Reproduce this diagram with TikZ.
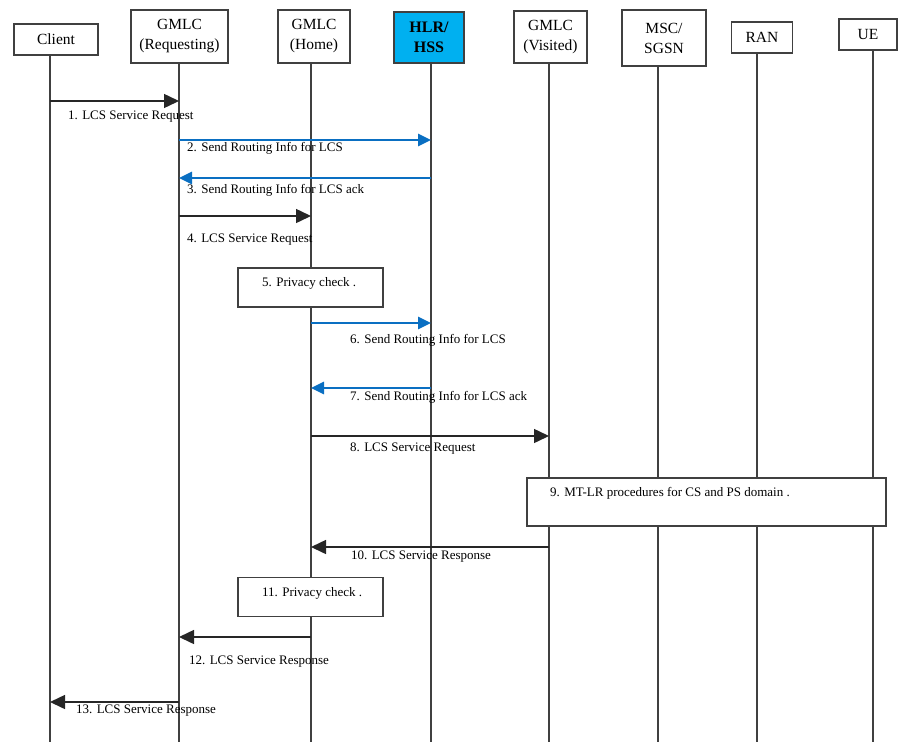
\documentclass[tikz,border=0pt]{standalone}
\usepackage{fontspec}
\setmainfont{Liberation Serif}
\usetikzlibrary{arrows.meta}
\definecolor{hss}{HTML}{00B0F0}
\definecolor{msgblue}{HTML}{0A6FC2}
\definecolor{ln}{HTML}{404040}
\begin{document}
\begin{tikzpicture}[x=1pt,y=-1pt,
  hdr/.style={draw=ln,line width=1.3pt,fill=white,inner sep=0pt,align=center,font=\fontsize{15.5}{20}\selectfont},
  life/.style={draw=ln,line width=1.4pt},
  msgk/.style={draw=black!85,line width=1.5pt,-{Triangle[length=15pt,width=14pt]}},
  msgb/.style={draw=msgblue,line width=2.6pt,-{Triangle[length=13pt,width=12pt]}},
  lbl/.style={anchor=west,inner sep=0pt,font=\fontsize{13}{15}\selectfont},
  act/.style={draw=ln,line width=1.3pt,fill=white,inner sep=0pt}
]
\useasboundingbox (0,0) rectangle (898,742);
% lifeline x positions
\coordinate (Lcl) at (50,0);
\coordinate (Lgr) at (179,0);
\coordinate (Lgh) at (311,0);
\coordinate (Lhl) at (431,0);
\coordinate (Lgv) at (549,0);
\coordinate (Lms) at (658,0);
\coordinate (Lra) at (757,0);
\coordinate (Lue) at (873,0);
% header boxes
\node[hdr,minimum width=84,minimum height=31] (cl) at (56,39.5) {Client};
\node[hdr,minimum width=97,minimum height=53] (gr) at (179.5,36.5) {GMLC\\(Requesting)};
\node[hdr,minimum width=72,minimum height=53] (gh) at (314,36.5) {GMLC\\(Home)};
\node[hdr,fill=hss,minimum width=70,minimum height=51,font=\fontsize{16}{20}\selectfont\bfseries] (hl) at (429,37.5) {HLR/\\HSS};
\node[hdr,minimum width=73,minimum height=52] (gv) at (550.5,37) {GMLC\\(Visited)};
\node[hdr,minimum width=84,minimum height=56] (ms) at (664,38) {MSC/\\SGSN};
\node[hdr,minimum width=61,minimum height=31] (ra) at (762,37.5) {RAN};
\node[hdr,minimum width=58,minimum height=31] (ue) at (868,34.5) {UE};
% lifelines
\draw[life] (Lcl |- cl.south) -- (Lcl |- 0,742);
\draw[life] (Lgr |- gr.south) -- (Lgr |- 0,742);
\draw[life] (Lgh |- gh.south) -- (Lgh |- 0,742);
\draw[life] (Lhl |- hl.south) -- (Lhl |- 0,742);
\draw[life] (Lgv |- gv.south) -- (Lgv |- 0,742);
\draw[life] (Lms |- ms.south) -- (Lms |- 0,742);
\draw[life] (Lra |- ra.south) -- (Lra |- 0,742);
\draw[life] (Lue |- ue.south) -- (Lue |- 0,742);
% messages
\draw[msgk] (Lcl |- 0,101) -- (Lgr |- 0,101);
\node[lbl] (m1) at (68,117) {1. LCS Service Request};
\draw[msgb] (Lgr |- 0,140) -- (Lhl |- 0,140);
\node[lbl] (m2) at (187,148) {2. Send Routing Info for LCS};
\draw[msgb] (Lhl |- 0,178) -- (Lgr |- 0,178);
\node[lbl] (m3) at (187,190) {3. Send Routing Info for LCS ack};
\draw[msgk] (Lgr |- 0,216) -- (Lgh |- 0,216);
\node[lbl] (m4) at (187,240) {4. LCS Service Request};
\node[act,minimum width=145,minimum height=39] (b5) at (310.5,287.5) {};
\node[lbl] (m5) at (262,283) {5. Privacy check .};
\draw[msgb] (Lgh |- 0,323) -- (Lhl |- 0,323);
\node[lbl] (m6) at (350,340) {6. Send Routing Info for LCS};
\draw[msgb] (Lhl |- 0,388) -- (Lgh |- 0,388);
\node[lbl] (m7) at (350,397) {7. Send Routing Info for LCS ack};
\draw[msgk] (Lgh |- 0,436) -- (Lgv |- 0,436);
\node[lbl] (m8) at (350,449) {8. LCS Service Request};
\node[act,minimum width=359,minimum height=48] (b9) at (706.5,502) {};
\node[lbl] (m9) at (550,493) {9. MT-LR procedures for CS and PS domain .};
\draw[msgk] (Lgv |- 0,547) -- (Lgh |- 0,547);
\node[lbl] (m10) at (351,557) {10. LCS Service Response};
\node[act,minimum width=145,minimum height=39] (b11) at (310.5,597) {};
\node[lbl] (m11) at (262,593) {11. Privacy check .};
\draw[msgk] (Lgh |- 0,637) -- (Lgr |- 0,637);
\node[lbl] (m12) at (189,662) {12. LCS Service Response};
\draw[msgk] (Lgr |- 0,702) -- (Lcl |- 0,702);
\node[lbl] (m13) at (76,711) {13. LCS Service Response};
\end{tikzpicture}
\end{document}
